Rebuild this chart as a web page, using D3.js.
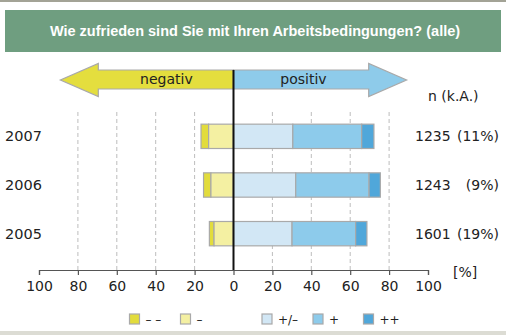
<!DOCTYPE html>
<html>
<head>
<meta charset="utf-8">
<script src="https://cdn.jsdelivr.net/npm/d3@7"></script>
<style>
  html, body { margin: 0; padding: 0; background: #fff; }
  svg { display: block; }
  text { font-family: "DejaVu Sans", sans-serif; fill: #222; }
</style>
</head>
<body>
<svg id="chart" width="506" height="335"></svg>
<script>
// Survey years and satisfaction shares (%), negative side drawn leftwards
const years = ["2007", "2006", "2005"];
const veryNeg = [3.9, 3.8, 2.4];     // "– –"
const neg = [12.8, 11.6, 10.0];      // "–"
const neutral = [30.5, 32.0, 30.1];  // "+/–"
const pos = [35.4, 37.7, 32.7];      // "+"
const veryPos = [6.3, 5.8, 5.8];     // "++"
const counts = ["1235", "1243", "1601"];
const noAnswer = ["(11%)", "(9%)", "(19%)"];
const tickValues = [-100, -80, -60, -40, -20, 0, 20, 40, 60, 80, 100];
const legendLabels = ["– –", "–", "+/–", "+", "++"];
const titleText = "Wie zufrieden sind Sie mit Ihren Arbeitsbedingungen? (alle)";

const colors = ["#e2dc3c", "#f4f0a2", "#d2e7f5", "#8dcbeb", "#50a7da"];
const strokeCol = "#a9a9a9";

const svg = d3.select("#chart");

// frame lines
svg.append("rect").attr("x", 0).attr("y", 0).attr("width", 506).attr("height", 2).attr("fill", "#a3a396");
svg.append("rect").attr("x", 0).attr("y", 331).attr("width", 506).attr("height", 4).attr("fill", "#dcdcd4");

// title banner
svg.append("rect").attr("x", 5).attr("y", 10).attr("width", 496).attr("height", 42).attr("fill", "#6f9e80");
svg.append("text").attr("x", 255).attr("y", 36).attr("text-anchor", "middle")
  .style("font-family", "'Liberation Sans', sans-serif").style("font-weight", "bold")
  .style("font-size", "14.5px").style("fill", "#fff").text(titleText);

const x = d3.scaleLinear().domain([-100, 100]).range([39, 428]);
const y = d3.scaleBand().domain(years).range([112, 258]).paddingInner(0.5).paddingOuter(0.25);

// stacked segments per year: [start, end] in percent
const segs = years.map((yr, i) => {
  const a = -(veryNeg[i] + neg[i]);
  const b = a + veryNeg[i];
  const c = neutral[i], d = c + pos[i], e = d + veryPos[i];
  return { yr, parts: [[a, b], [b, 0], [0, c], [c, d], [d, e]] };
});

// dashed grid
svg.append("g").selectAll("line").data(tickValues.filter(v => Math.abs(v) !== 100 && v !== 0))
  .join("line")
  .attr("x1", d => x(d)).attr("x2", d => x(d))
  .attr("y1", 112).attr("y2", 270)
  .attr("stroke", "#bdbdbd").attr("stroke-width", 1).attr("stroke-dasharray", "4,3");

// direction arrows
const yMid = 80;
const arrowG = svg.append("g").attr("stroke", strokeCol).attr("stroke-width", 1.2);
arrowG.append("path")
  .attr("d", `M${x(0)},70 L${x(-69.5)},70 L${x(-69.5)},63.5 L${x(-89)},${yMid} L${x(-69.5)},96.5 L${x(-69.5)},89 L${x(0)},89 Z`)
  .attr("fill", "#e4de3e");
arrowG.append("path")
  .attr("d", `M${x(0)},70 L${x(69.5)},70 L${x(69.5)},63.5 L${x(89)},${yMid} L${x(69.5)},96.5 L${x(69.5)},89 L${x(0)},89 Z`)
  .attr("fill", "#8ecbea");
svg.append("text").attr("x", x(-34.5)).attr("y", 84).attr("text-anchor", "middle")
  .style("font-size", "14px").text("negativ");
svg.append("text").attr("x", x(36)).attr("y", 84).attr("text-anchor", "middle")
  .style("font-size", "14px").text("positiv");

// bars
const rows = svg.append("g").selectAll("g").data(segs).join("g");
rows.selectAll("rect").data(d => d.parts.map((p, k) => ({ p, k, yr: d.yr })))
  .join("rect")
  .attr("x", d => x(d.p[0]))
  .attr("width", d => x(d.p[1]) - x(d.p[0]))
  .attr("y", d => y(d.yr))
  .attr("height", y.bandwidth())
  .attr("fill", d => colors[d.k])
  .attr("stroke", strokeCol).attr("stroke-width", 1.2);

// zero line
svg.append("line").attr("x1", x(0)).attr("x2", x(0)).attr("y1", 70).attr("y2", 270)
  .attr("stroke", "#111").attr("stroke-width", 2);

// x axis
const axis = d3.axisBottom(x).tickValues(tickValues).tickSize(5).tickPadding(6)
  .tickFormat(d => Math.abs(d));
const axG = svg.append("g").attr("transform", "translate(0,270)").call(axis);
axG.select(".domain").attr("stroke", "#555").attr("stroke-width", 1.2);
axG.selectAll(".tick line").attr("stroke", "#555").attr("stroke-width", 1.2);
axG.selectAll(".tick text").style("font-family", "'DejaVu Sans', sans-serif")
  .style("font-size", "14px").attr("fill", "#222");
svg.append("text").attr("x", 453).attr("y", 277).style("font-size", "14px").text("[%]");

// year labels
svg.append("g").selectAll("text").data(years).join("text")
  .attr("x", 5).attr("y", d => y(d) + y.bandwidth() / 2 + 5)
  .style("font-size", "14.5px").text(d => d);

// respondents and no-answer share
svg.append("text").attr("x", 428).attr("y", 101).style("font-size", "14px").text("n (k.A.)");
svg.append("g").selectAll("text").data(years).join("text")
  .attr("x", 415).attr("y", d => y(d) + y.bandwidth() / 2 + 5)
  .style("font-size", "14px").text((d, i) => counts[i]);
svg.append("g").selectAll("text").data(years).join("text")
  .attr("x", 499).attr("y", d => y(d) + y.bandwidth() / 2 + 5).attr("text-anchor", "end")
  .style("font-size", "14px").text((d, i) => noAnswer[i]);

// legend
const legX = [129.5, 180.5, 262, 313, 363.5];
const leg = svg.append("g").selectAll("g").data(legendLabels).join("g")
  .attr("transform", (d, i) => `translate(${legX[i]},314)`);
leg.append("rect").attr("width", 10).attr("height", 10)
  .attr("fill", (d, i) => colors[i]).attr("stroke", strokeCol).attr("stroke-width", 1.2);
leg.append("text").attr("x", 16).attr("y", 10).style("font-size", "12px").text(d => d);
</script>
</body>
</html>
